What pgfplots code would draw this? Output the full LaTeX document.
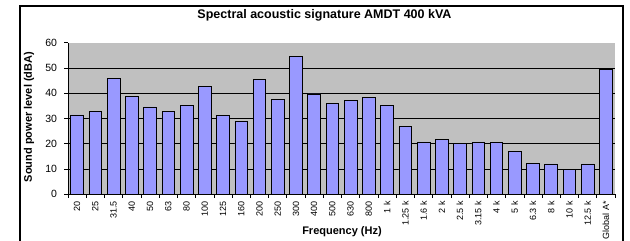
\documentclass[border=0pt]{standalone}
\usepackage{pgfplots}
\pgfplotsset{compat=1.18}
\usepackage{fontspec}
\setmainfont{Liberation Sans}
\definecolor{barblue}{HTML}{9999FF}
\definecolor{plotgray}{HTML}{C0C0C0}
\begin{document}
\begin{tikzpicture}[x=1pt,y=1pt]
\useasboundingbox (0,0) rectangle (630,241);
\fill[white] (0,0) rectangle (630,241);
\draw[black, line width=1.2pt] (20,235) rectangle (623,-10);
\begin{axis}[
  at={(68pt,46.7pt)}, anchor=south west,
  width=547pt, height=151.6pt, scale only axis,
  xmin=-0.5, xmax=29.5, ymin=0, ymax=60,
  axis x line*=bottom, axis y line*=left,
  axis line style={black, line width=0.8pt, -},
  axis background/.style={fill=plotgray},
  ytick={0,10,...,50}, extra y ticks={60}, extra y tick style={grid=none},
  ymajorgrids, grid style={black, line width=0.7pt},
  xtick={0,...,29},
  xticklabels={20,25,31.5,40,50,63,80,100,125,160,200,250,300,400,500,630,800,1 k,1.25 k,1.6 k,2 k,2.5 k,3.15 k,4 k,5 k,6.3 k,8 k,10 k,12.5 k,Global A*},
  x tick label style={rotate=90, anchor=east, font=\fontsize{9}{10}\selectfont, inner sep=1pt},
  y tick label style={font=\fontsize{10.5}{11}\selectfont},
  major x tick style={draw=none},
  minor xtick={-0.5,0.5,...,29.5},
  minor x tick style={black, line width=0.6pt},
  major y tick style={black, line width=0.6pt},
  tick align=outside, major tick length=3.5pt, minor tick length=3.5pt,
  xticklabel shift=2pt, yticklabel shift=4pt,
  ybar, bar width=12.7pt,
  /pgf/number format/assume math mode=true,
  clip=false,
]
\addplot[fill=barblue, draw=black, line width=0.7pt] coordinates {
(0,31.4) (1,32.8) (2,45.9) (3,38.7) (4,34.6) (5,32.8) (6,35.2) (7,42.6) (8,31.1) (9,28.9)
(10,45.3) (11,37.6) (12,54.7) (13,39.7) (14,35.9) (15,37.2) (16,38.4) (17,35.2) (18,26.8) (19,20.7)
(20,21.8) (21,20.1) (22,20.7) (23,20.4) (24,16.9) (25,12.3) (26,12.0) (27,10.0) (28,12.0) (29,49.5)
};
\end{axis}
\node[font=\bfseries\fontsize{12.5}{13}\selectfont] at (324.5,226) {Spectral acoustic signature AMDT 400 kVA};
\node[font=\bfseries\fontsize{11}{12}\selectfont] at (342,9) {Frequency (Hz)};
\node[font=\bfseries\fontsize{11}{12}\selectfont, rotate=90] at (29,124) {Sound power level (dBA)};
\end{tikzpicture}
\end{document}
